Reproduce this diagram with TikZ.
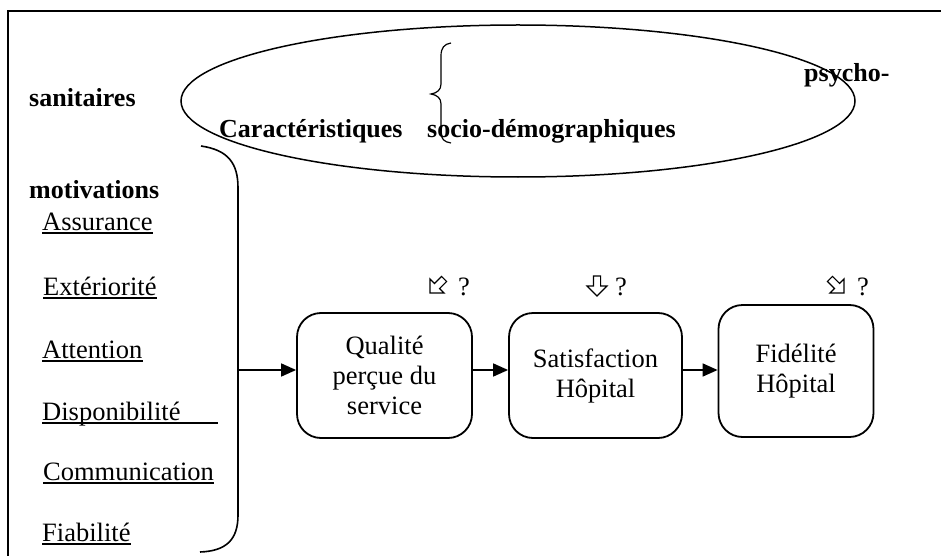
\documentclass[tikz,border=0pt]{standalone}
\usepackage{fontspec}
\setmainfont{Liberation Serif}
\usetikzlibrary{arrows.meta}
\tikzset{
  txt/.style={inner sep=0pt, anchor=base west, font=\fontsize{26.5pt}{30pt}\selectfont},
  btxt/.style={txt, font=\fontsize{26pt}{30pt}\selectfont\bfseries},
  ul/.style={line width=1.5pt},
  boxnode/.style={draw, line width=1.8pt, rounded corners=24pt, align=center,
     font=\fontsize{26.5pt}{30pt}\selectfont, inner sep=0pt},
  arr/.style={line width=1.6pt, -{Triangle[length=15pt,width=13pt]}},
  hollow/.pic={\draw[line width=1.2pt, line join=miter]
     (-3.6,-10) -- (3.6,-10) -- (3.6,0) -- (10,0) -- (0,10) -- (-10,0) -- (-3.6,0) -- cycle;}
}
\begin{document}
\begin{tikzpicture}[x=1pt,y=-1pt]
\useasboundingbox (0,0) rectangle (941,556);
% frame
\draw[line width=2.6pt] (8,556) -- (8,11) -- (941,11);
% ellipse
\draw[line width=1.5pt] (518,101) ellipse [x radius=337, y radius=76];
% texts top
\node[btxt] (psy) at (804,82) {psycho-};
\node[btxt] (san) at (29,107) {sanitaires};
\node[btxt] (car) at (219,138) {Caractéristiques};
\node[btxt] (soc) at (427,138) {socio-démographiques};
\node[btxt] (mot) at (29,198) {motivations};
% curly brace
\draw[line width=1.2pt] (451,43) .. controls (444,44) and (441,48) .. (441,56)
  -- (441,84) .. controls (441,90) and (437,93) .. (431,94)
  .. controls (437,95) and (441,98) .. (441,104)
  -- (441,132) .. controls (441,139) and (444,142) .. (451,143);
% big bracket
\draw[line width=1.6pt] (201,146) .. controls (228,150) and (238,163) .. (238,188)
  -- (238,515) .. controls (238,540) and (226,551) .. (200,552);
\coordinate (br) at (238,370);
% list
\node[txt] (l1) at (42,230) {Assurance};
\node[txt] (l2) at (43,295) {Extériorité};
\node[txt] (l3) at (42,358) {Attention};
\node[txt] (l4) at (42,420) {Disponibilité};
\node[txt] (l5) at (43,480) {Communication};
\node[txt] (l6) at (42,541) {Fiabilité};
\foreach \n in {l1,l2,l3,l5,l6}
  \draw[ul] ([yshift=-3pt]\n.base west) -- ([yshift=-3pt]\n.base east);
\coordinate (l4e) at (218,423);
\draw[ul] ([yshift=-3pt]l4.base west) -- (l4e);
% boxes
\node[boxnode, minimum width=175pt, minimum height=125pt] (b1) at (384.5,375.5) {Qualité\\perçue du\\service};
\node[boxnode, minimum width=173pt, minimum height=125pt] (b2) at (595.5,375.5) {Satisfaction\\Hôpital};
\node[boxnode, minimum width=155pt, minimum height=132pt] (b3) at (796,371) {Fidélité\\Hôpital};
% arrows
\coordinate (ay) at (0,370);
\draw[arr] (br) -- (b1.west|-ay);
\draw[arr] (b1.east|-ay) -- (b2.west|-ay);
\draw[arr] (b2.east|-ay) -- (b3.west|-ay);
% hollow arrows with question marks
\pic[rotate=-45] at (437,286) {hollow};
\node[txt] (q1) at (458,295) {?};
\pic at (597,286) {hollow};
\node[txt] (q2) at (615,295) {?};
\pic[rotate=45] at (837,286) {hollow};
\node[txt] (q3) at (857,295) {?};
\end{tikzpicture}
\end{document}
